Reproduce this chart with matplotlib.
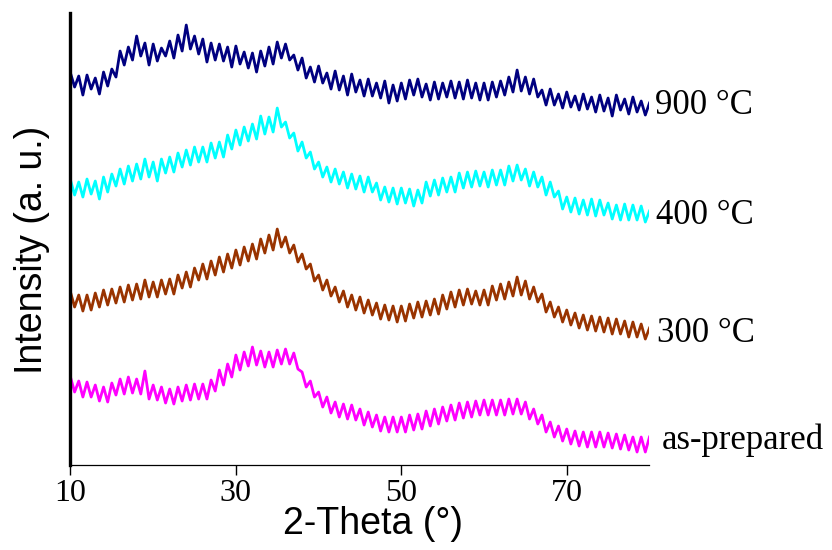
import numpy as np
import matplotlib
matplotlib.use("Agg")
import matplotlib.pyplot as plt

# 2-theta grid, 0.5 deg steps
two_theta = np.arange(10.0, 80.01, 0.5)

# intensities (arbitrary units, already offset)
i_900 = [
    392, 378, 389, 370, 390, 376, 387, 371, 393, 379, 396, 388,
    414, 400, 418, 405, 429, 409, 422, 400, 421, 404, 417, 409,
    424, 407, 430, 414, 440, 416, 429, 411, 426, 403, 422, 405,
    421, 404, 418, 398, 419, 401, 413, 397, 412, 393, 414, 399,
    418, 401, 423, 407, 421, 405, 410, 395, 407, 387, 398, 383,
    399, 382, 392, 376, 394, 375, 389, 370, 391, 373, 385, 369,
    386, 369, 382, 367, 384, 362, 380, 364, 382, 366, 385, 370,
    386, 368, 381, 365, 383, 366, 382, 368, 384, 367, 383, 366,
    385, 367, 382, 365, 382, 365, 383, 368, 384, 370, 388, 373,
    395, 374, 388, 371, 386, 368, 375, 360, 376, 360, 371, 357,
    373, 358, 369, 355, 371, 356, 368, 353, 370, 354, 367, 349,
    370, 355, 366, 351, 368, 353, 364, 350, 362,
]
i_400 = [
    285, 270, 283, 268, 286, 271, 284, 266, 288, 273, 291, 279,
    296, 281, 299, 284, 301, 286, 306, 288, 303, 284, 306, 292,
    308, 293, 312, 298, 315, 300, 318, 303, 318, 303, 322, 307,
    323, 308, 330, 316, 335, 320, 338, 324, 341, 326, 349, 331,
    348, 333, 357, 338, 343, 327, 332, 314, 323, 307, 313, 296,
    303, 288, 298, 283, 296, 281, 293, 277, 291, 276, 289, 273,
    288, 273, 282, 265, 278, 263, 277, 261, 277, 262, 276, 259,
    275, 262, 283, 269, 285, 270, 287, 273, 288, 273, 292, 277,
    293, 278, 294, 279, 293, 278, 295, 280, 295, 280, 299, 284,
    300, 285, 296, 279, 293, 278, 288, 270, 283, 268, 274, 256,
    268, 253, 267, 251, 265, 250, 266, 249, 265, 250, 262, 246,
    260, 245, 261, 245, 260, 245, 259, 243, 254,
]
i_300 = [
    173, 158, 170, 154, 170, 155, 172, 158, 175, 160, 176, 162,
    178, 163, 180, 165, 181, 166, 185, 168, 183, 168, 185, 171,
    186, 171, 190, 177, 193, 178, 197, 185, 201, 186, 204, 190,
    208, 193, 211, 197, 215, 200, 218, 204, 221, 206, 226, 212,
    230, 215, 236, 218, 228, 212, 220, 203, 211, 196, 201, 184,
    190, 175, 185, 169, 178, 163, 174, 158, 170, 155, 168, 152,
    165, 150, 162, 146, 160, 145, 159, 143, 159, 144, 161, 147,
    163, 148, 164, 150, 166, 151, 170, 156, 173, 158, 175, 160,
    176, 161, 174, 160, 175, 160, 179, 165, 181, 166, 183, 169,
    188, 170, 184, 166, 178, 163, 171, 153, 163, 148, 158, 143,
    155, 140, 152, 137, 150, 135, 149, 134, 148, 133, 147, 131,
    146, 131, 144, 128, 143, 128, 141, 126, 137,
]
i_asprep = [
    88, 73, 84, 68, 83, 68, 80, 64, 78, 63, 82, 70,
    86, 71, 88, 72, 86, 71, 94, 66, 80, 65, 78, 62,
    76, 61, 78, 64, 80, 65, 81, 66, 81, 66, 85, 74,
    95, 80, 101, 88, 110, 95, 113, 99, 118, 100, 114, 98,
    113, 98, 115, 101, 116, 101, 112, 96, 93, 78, 84, 68,
    73, 58, 68, 52, 63, 48, 61, 46, 60, 45, 56, 40,
    53, 38, 50, 34, 48, 33, 48, 33, 48, 33, 50, 35,
    51, 36, 54, 39, 56, 41, 58, 44, 60, 45, 62, 47,
    63, 48, 64, 50, 65, 50, 65, 50, 65, 50, 66, 51,
    66, 51, 63, 46, 56, 41, 50, 33, 43, 28, 39, 24,
    36, 21, 34, 19, 33, 18, 33, 18, 33, 18, 32, 17,
    31, 16, 30, 15, 28, 13, 28, 13, 28,
]

series = [
    (i_900, "#000080", "900 °C", 80.7, 360),
    (i_400, "#00FFFF", "400 °C", 80.8, 250),
    (i_300, "#993300", "300 °C", 80.9, 132),
    (i_asprep, "#FF00FF", "as-prepared", 81.5, 25),
]

fig = plt.figure(figsize=(8.32, 5.5), dpi=100)
ax = fig.add_axes([0.0847, 0.1545, 0.6959, 0.8218])

for vals, color, label, xlab, ylab in series:
    ax.plot(two_theta, vals, color=color, lw=2.0)
    ax.text(xlab, ylab, label, fontsize=25, family="Liberation Serif",
            va="center", ha="left", clip_on=False)

ax.set_xlim(10, 80)
ax.set_ylim(0, 452)
ax.set_xticks([10, 30, 50, 70])
ax.set_yticks([])
ax.tick_params(axis="x", direction="out", length=7, width=1, labelsize=23, pad=3)
for t in ax.get_xticklabels():
    t.set_family("Liberation Serif")

ax.spines["top"].set_visible(False)
ax.spines["right"].set_visible(False)
ax.spines["left"].set_linewidth(2.4)
ax.spines["bottom"].set_linewidth(0.9)

ax.set_xlabel("2-Theta (°)", fontsize=27, family="Liberation Sans")
ax.set_ylabel("Intensity (a. u.)", fontsize=27, family="Liberation Sans")
ax.xaxis.set_label_coords(0.523, -0.09)
ax.yaxis.set_label_coords(-0.036, 0.476)

fig.savefig("out.png", dpi=100)
